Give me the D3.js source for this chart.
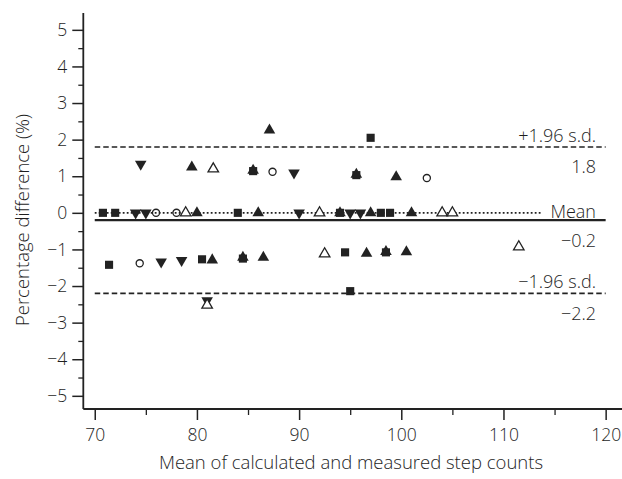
<!DOCTYPE html>
<html><head><meta charset="utf-8">
<script src="https://cdn.jsdelivr.net/npm/d3@7"></script>
<style>body{margin:0;background:#fff}svg{display:block}text{font-family:"Open Sans",sans-serif;fill:#1e1e1e;font-weight:300}</style>
</head><body><svg id="c" width="622" height="479"></svg>
<script>
// Filled squares
const sqX = [70.8, 72.0, 84.0, 98.0, 98.9, 71.4, 80.5, 94.5, 95.0, 97.0, 85.5, 95.6, 84.5, 98.5, 94.0];
const sqY = [0, 0, 0, 0, 0, -1.42, -1.27, -1.08, -2.14, 2.05, 1.14, 1.03, -1.25, -1.08, 0];
// Filled triangles (up)
const triX = [79.5, 87.1, 99.5, 80.0, 86.0, 97.0, 101.0, 81.5, 86.5, 96.6, 100.5, 85.5, 95.6, 84.5, 98.5, 94.0];
const triY = [1.25, 2.26, 0.98, 0, 0, 0, 0, -1.29, -1.22, -1.11, -1.07, 1.16, 1.05, -1.22, -1.06, 0];
// Filled triangles (down)
const tdX = [74.5, 89.5, 74.0, 75.0, 90.0, 95.0, 96.0, 76.5, 78.5, 81.0];
const tdY = [1.33, 1.09, 0, 0, 0, 0, 0, -1.34, -1.30, -2.40];
// Open circles
const ciX = [87.4, 102.5, 76.0, 78.0, 74.4];
const ciY = [1.12, 0.95, 0, 0, -1.38];
// Open triangles
const otX = [81.6, 78.9, 92.0, 104.0, 105.0, 92.5, 111.5, 81.0];
const otY = [1.20, 0, 0, 0, 0, -1.12, -0.93, -2.52];
// Reference lines
const refVals = [1.8, -0.2, -2.2];
const refNames = ["+1.96 s.d.", "Mean", "\u22121.96 s.d."];
const refNums = ["1.8", "\u22120.2", "\u22122.2"];
const xTicks = [70, 80, 90, 100, 110, 120];
const yTicks = [-5, -4, -3, -2, -1, 0, 1, 2, 3, 4, 5];

const svg = d3.select("#c");
const x = d3.scaleLinear().domain([68.88, 121.6]).range([83.3, 622]);
const y = d3.scaleLinear().domain([-5.36, 5.46]).range([409, 13]);
const ink = "#222";
const fs = 17.5, ft = 18.5, fl = 18;

// axes
const gx = svg.append("g").attr("transform", "translate(0,409)");
gx.call(d3.axisBottom(x).tickValues(d3.range(75, 120, 10)).tickSize(6).tickFormat(""));
gx.selectAll(".tick line").attr("stroke", ink).attr("stroke-width", 1.3);
gx.select(".domain").remove();
const gx2 = svg.append("g").attr("transform", "translate(0,409)");
gx2.call(d3.axisBottom(x).tickValues(xTicks).tickSize(11).tickPadding(9));
gx2.selectAll(".tick line").attr("stroke", ink).attr("stroke-width", 1.5);
gx2.selectAll(".tick text").attr("font-size", fs).attr("fill", "#1e1e1e").style("font-family", "Open Sans").style("font-weight", 300);
gx2.select(".domain").attr("stroke", ink).attr("stroke-width", 1.8).attr("d", "M83.3,0H622");

const gy = svg.append("g").attr("transform", "translate(83.3,0)");
gy.call(d3.axisLeft(y).tickValues(d3.range(-4.5, 5, 1)).tickSize(5).tickFormat(""));
gy.selectAll(".tick line").attr("stroke", ink).attr("stroke-width", 1.3);
gy.select(".domain").remove();
const gy2 = svg.append("g").attr("transform", "translate(83.3,0)");
gy2.call(d3.axisLeft(y).tickValues(yTicks).tickSize(11).tickPadding(5));
gy2.selectAll(".tick line").attr("stroke", ink).attr("stroke-width", 1.5);
gy2.selectAll(".tick text").attr("font-size", fs).attr("fill", "#1e1e1e").style("font-family", "Open Sans").style("font-weight", 300);
gy2.select(".domain").attr("stroke", ink).attr("stroke-width", 1.8).attr("d", "M0,13V409");

// titles
svg.append("text").attr("x", 351).attr("y", 469).attr("text-anchor", "middle").attr("font-size", ft)
  .text("Mean of calculated and measured step counts");
svg.append("text").attr("transform", "translate(29,220) rotate(-90)").attr("text-anchor", "middle").attr("font-size", ft)
  .text("Percentage difference (%)");

// reference lines
const xs = x(70), xe = x(120);
svg.append("line").attr("x1", xs).attr("x2", x(113.8)).attr("y1", y(0)).attr("y2", y(0))
  .attr("stroke", ink).attr("stroke-width", 1.6).attr("stroke-dasharray", "1.8,2.2");
refVals.forEach((v, i) => {
  const l = svg.append("line").attr("x1", xs).attr("x2", xe).attr("y1", y(v)).attr("y2", y(v)).attr("stroke", ink);
  if (i === 1) l.attr("stroke-width", 2.2);
  else l.attr("stroke-width", 1.6).attr("stroke-dasharray", "5.5,3");
});
const labX = 596;
svg.append("text").attr("x", labX).attr("y", y(refVals[0]) - 5).attr("text-anchor", "end").attr("font-size", fl).text(refNames[0]);
svg.append("text").attr("x", labX).attr("y", y(refVals[0]) + 26).attr("text-anchor", "end").attr("font-size", fl).text(refNums[0]);
svg.append("text").attr("x", labX).attr("y", y(0) + 5).attr("text-anchor", "end").attr("font-size", fl).text(refNames[1]);
svg.append("text").attr("x", labX).attr("y", y(refVals[1]) + 27).attr("text-anchor", "end").attr("font-size", fl).text(refNums[1]);
svg.append("text").attr("x", labX).attr("y", y(refVals[2]) - 5).attr("text-anchor", "end").attr("font-size", fl).text(refNames[2]);
svg.append("text").attr("x", labX).attr("y", y(refVals[2]) + 27).attr("text-anchor", "end").attr("font-size", fl).text(refNums[2]);

// markers
function draw(xa, ya, type, size, fill, stroke, rot) {
  const sym = d3.symbol().type(type).size(size);
  svg.append("g").selectAll("path").data(xa.map((d, i) => [d, ya[i]])).join("path")
    .attr("d", sym)
    .attr("transform", d => `translate(${x(d[0])},${y(d[1])})` + (rot ? ` rotate(${rot})` : ""))
    .attr("fill", fill).attr("stroke", stroke).attr("stroke-width", fill === "none" || fill === "#fff" ? 1.3 : 0);
}
draw(sqX, sqY, d3.symbolSquare, 66, ink, "none");
draw(tdX, tdY, d3.symbolTriangle, 58, ink, "none", 180);
draw(triX, triY, d3.symbolTriangle, 58, ink, "none");
draw(otX, otY, d3.symbolTriangle, 48, "#fff", ink);
draw(ciX, ciY, d3.symbolCircle, 40, "none", ink);
</script></body></html>
